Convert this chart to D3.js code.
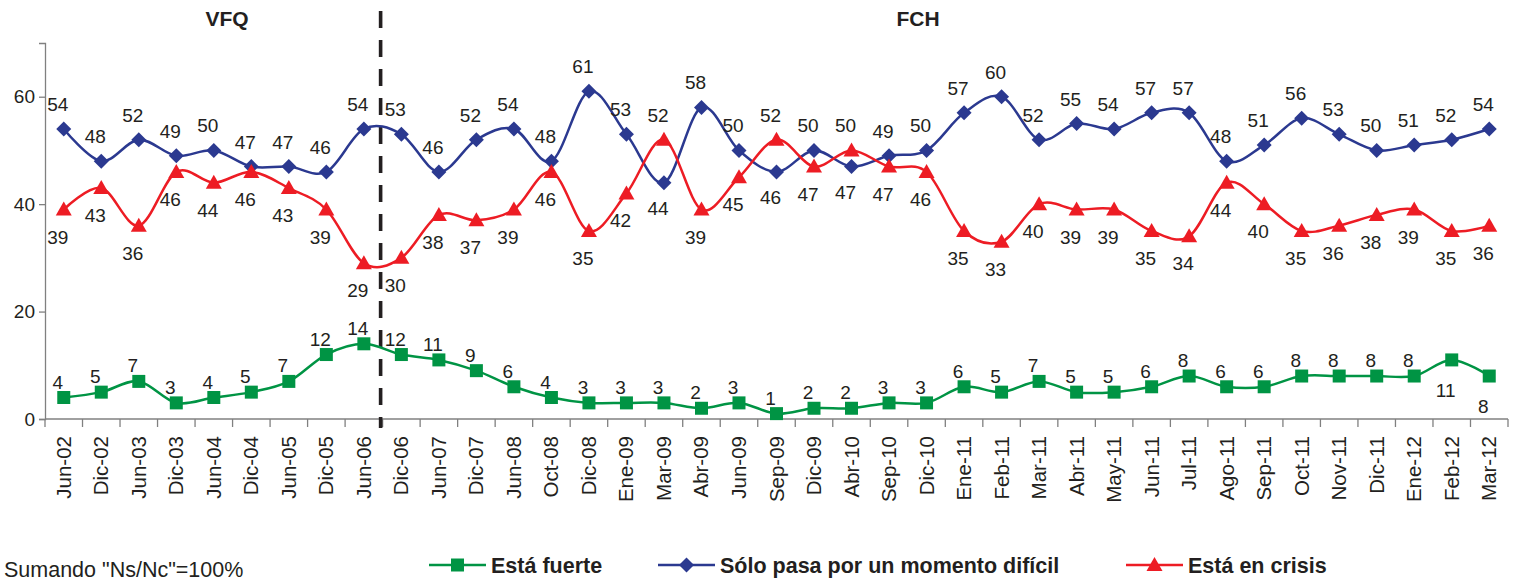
<!DOCTYPE html>
<meta charset="utf-8">
<title>Está fuerte / momento difícil / crisis</title>
<style>
body {
  margin: 0;
  background: #fff;
  font-family: 'Liberation Sans', Arial, sans-serif;
}
.axis text {
  fill: #231f20;
}
.axis .domain,
.axis .tick line {
  stroke: #808080;
  stroke-width: 1.3;
}
.lbl {
  font-size: 19px;
  fill: #231f20;
  text-anchor: middle;
}
</style>
<body>
<svg width="1516" height="582"></svg>
<script src="https://d3js.org/d3.v7.min.js"></script>
<script>
// categories (survey dates)
var categories = ["Jun-02","Dic-02","Jun-03","Dic-03","Jun-04","Dic-04","Jun-05","Dic-05","Jun-06",
  "Dic-06","Jun-07","Dic-07","Jun-08","Oct-08","Dic-08","Ene-09","Mar-09","Abr-09","Jun-09",
  "Sep-09","Dic-09","Abr-10","Sep-10","Dic-10","Ene-11","Feb-11","Mar-11","Abr-11","May-11",
  "Jun-11","Jul-11","Ago-11","Sep-11","Oct-11","Nov-11","Dic-11","Ene-12","Feb-12","Mar-12"];

var fuerte = [4,5,7,3,4,5,7,12,14,12,11,9,6,4,3,3,3,2,3,1,2,2,3,3,6,5,7,5,5,6,8,6,6,8,8,8,8,11,8];
var dificil = [54,48,52,49,50,47,47,46,54,53,46,52,54,48,61,53,44,58,50,46,50,47,49,50,57,60,52,55,54,57,57,48,51,56,53,50,51,52,54];
var crisis = [39,43,36,46,44,46,43,39,29,30,38,37,39,46,35,42,52,39,45,52,47,50,47,46,35,33,40,39,39,35,34,44,40,35,36,38,39,35,36];

var yTicks = [0, 20, 40, 60];
var periods = ["VFQ", "FCH"];
var splitAfter = "Jun-06";
var fuerteBelow = ["Feb-12", "Mar-12"];
var note = 'Sumando "Ns/Nc"=100%';

var svg = d3.select("svg"),
    margin = {top: 43, right: 8, bottom: 163, left: 45},
    width = +svg.attr("width") - margin.left - margin.right,
    height = +svg.attr("height") - margin.top - margin.bottom,
    g = svg.append("g").attr("transform", "translate(" + margin.left + "," + margin.top + ")");

var x = d3.scaleBand().domain(categories).range([0, width]);
var y = d3.scaleLinear().domain([0, 70]).range([height, 0]);
var cx = function(c) { return x(c) + x.bandwidth() / 2; };

// marker shapes (Excel style)
function square() { return "M-6.5,-6.5H6.5V6.5H-6.5Z"; }
function diamond() { return "M0,-7.5L7.5,0L0,7.5L-7.5,0Z"; }
function triangle() { return "M0,-8L8,6H-8Z"; }

// x axis: ticks at category boundaries
var xa = g.append("g").attr("class", "axis").attr("transform", "translate(0," + height + ")");
xa.append("path").attr("class", "domain").attr("d", "M0,0H" + width);
xa.selectAll("line.tk").data(d3.range(categories.length + 1)).enter().append("line")
    .attr("x1", function(i) { return i * x.step(); })
    .attr("x2", function(i) { return i * x.step(); })
    .attr("y1", 0).attr("y2", 8)
    .style("stroke", "#808080").style("stroke-width", 1.3);
xa.selectAll("text").data(categories).enter().append("text")
    .attr("transform", function(d) { return "translate(" + (cx(d) + 7) + ",17) rotate(-90)"; })
    .attr("text-anchor", "end")
    .style("font-size", "20.5px")
    .text(function(d) { return d; });

// y axis
g.append("g").attr("class", "axis")
    .call(d3.axisLeft(y).tickValues(yTicks).tickSize(6).tickPadding(4))
    .selectAll("text").style("font-size", "19px").style("font-family", "'Liberation Sans', Arial, sans-serif");

// dashed divider
var xs = x(splitAfter) + x.step();
g.append("line")
    .attr("x1", xs - 2).attr("x2", xs - 2)
    .attr("y1", -32).attr("y2", height + 9)
    .style("stroke", "#231f20").style("stroke-width", 3.6)
    .style("stroke-dasharray", "17,12");

// period titles
var titleX = [182, 873];
periods.forEach(function(p, k) {
  g.append("text")
    .attr("x", titleX[k])
    .attr("y", -17)
    .attr("text-anchor", "middle")
    .style("font-size", "21px").style("font-weight", "bold").style("fill", "#231f20")
    .text(p);
});

var line = d3.line().curve(d3.curveCardinal.tension(0))
    .x(function(d) { return cx(d.c); })
    .y(function(d) { return y(d.v); });

var series = [
  {key: "Está fuerte", vals: fuerte, color: "#009444", shape: square},
  {key: "Sólo pasa por un momento difícil", vals: dificil, color: "#2b3990", shape: diamond},
  {key: "Está en crisis", vals: crisis, color: "#ed1c24", shape: triangle}
];

series.forEach(function(s) {
  var pts = s.vals.map(function(v, i) { return {c: categories[i], v: v, i: i}; });
  var sg = g.append("g");
  sg.append("path").datum(pts)
    .attr("d", line)
    .style("fill", "none").style("stroke", s.color).style("stroke-width", 2.5);
  sg.selectAll("path.m").data(pts).enter().append("path")
    .attr("transform", function(d) { return "translate(" + cx(d.c) + "," + y(d.v) + ")"; })
    .attr("d", s.shape)
    .style("fill", s.color);
});

// data labels
function label(s, pos, upDy, downDy) {
  s.vals.forEach(function(v, i) {
    var c = categories[i];
    var up = pos(i, c);
    g.append("text").attr("class", "lbl")
      .attr("x", cx(c) - 6)
      .attr("y", y(v) + (up ? upDy : downDy))
      .text(v);
  });
}
label(series[0], function(i, c) { return fuerteBelow.indexOf(c) < 0; }, -9, 37);
label(series[1], function(i) { return dificil[i] >= crisis[i]; }, -18, 32);
label(series[2], function(i) { return crisis[i] > dificil[i]; }, -18, 34);

// legend
var legX = [429, 658, 1126];
series.forEach(function(s, k) {
  var lg = svg.append("g").attr("transform", "translate(" + legX[k] + ",565)");
  lg.append("line").attr("x1", 0).attr("x2", 57)
    .style("stroke", s.color).style("stroke-width", 2.5);
  lg.append("path").attr("transform", "translate(28.5,0)")
    .attr("d", s.shape)
    .style("fill", s.color);
  lg.append("text").attr("x", 62).attr("y", 8)
    .style("font-size", "21.5px").style("font-weight", "bold").style("fill", "#231f20")
    .text(s.key);
});

svg.append("text").attr("x", 4).attr("y", 577)
  .style("font-size", "21.5px").style("fill", "#231f20")
  .text(note);
</script>
</body>
